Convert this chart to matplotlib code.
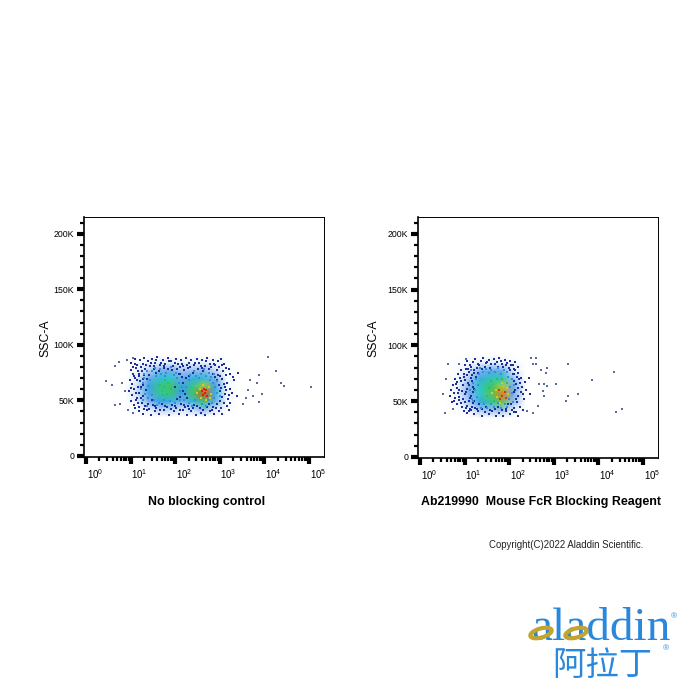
from matplotlib import pyplot as plt
from matplotlib.colors import LinearSegmentedColormap
from matplotlib.patches import Ellipse
from matplotlib.ticker import FixedLocator, NullFormatter
from matplotlib.transforms import ScaledTranslation
import numpy as np

plt.rcParams['font.family'] = ['Liberation Sans', 'DejaVu Sans']
plt.rcParams['mathtext.fontset'] = 'custom'
plt.rcParams['mathtext.rm'] = 'Liberation Sans'

# density: x is log10 of the signal, y is SSC-A in thousands
density_y = [35, 42, 49, 56, 63, 70, 77, 84, 91]

left_density_x = [0.9, 1.15, 1.4, 1.65, 1.9, 2.15, 2.4, 2.65, 2.9, 3.15, 3.4]
left_density = [
    [0, 0, 0, 0, 0, 0, 0, 0, 0, 0, 0],
    [0, .03, .1, .16, .16, .12, .16, .22, .12, .02, 0],
    [0, .1, .24, .34, .38, .26, .4, .62, .28, .05, 0],
    [.01, .13, .32, .54, .6, .34, .66, .95, .4, .06, 0],
    [.01, .13, .35, .58, .66, .36, .58, .76, .34, .06, 0],
    [0, .1, .26, .42, .46, .28, .38, .42, .24, .04, 0],
    [0, .07, .16, .24, .26, .18, .2, .22, .14, .03, 0],
    [0, .02, .07, .1, .1, .08, .08, .09, .06, .01, 0],
    [0, 0, 0, 0, 0, 0, 0, 0, 0, 0, 0],
]

right_density_x = [0.6, 0.85, 1.1, 1.35, 1.6, 1.85, 2.1, 2.35]
right_density = [
    [0, 0, 0, 0, 0, 0, 0, 0],
    [0, .01, .08, .18, .2, .2, .08, 0],
    [0, .05, .18, .36, .56, .7, .2, .01],
    [0, .07, .24, .46, .68, .9, .26, .02],
    [0, .07, .24, .48, .66, .78, .26, .02],
    [0, .05, .18, .38, .5, .5, .2, .01],
    [0, .03, .11, .24, .3, .28, .11, 0],
    [0, .01, .05, .09, .11, .1, .04, 0],
    [0, 0, 0, 0, 0, 0, 0, 0],
]

# individual events, dark blue
left_dark = [
    (1.02, 84), (1.09, 87), (1.15, 82), (1.21, 86), (1.27, 83), (1.31, 88), (1.38, 85), (1.43, 81),
    (1.49, 87), (1.55, 84), (1.6, 89), (1.66, 82), (1.72, 86), (1.78, 83), (1.83, 88), (1.9, 85),
    (1.95, 81), (2.01, 87), (2.07, 83), (2.13, 86), (2.18, 81), (2.24, 88), (2.3, 84), (2.36, 86),
    (2.42, 82), (2.48, 87), (2.54, 84), (2.6, 86), (2.66, 81), (2.72, 88), (2.78, 83), (2.84, 86),
    (2.9, 82), (2.96, 85), (3.03, 87), (3.1, 83),
    (1.0, 77), (1.06, 74), (1.12, 79), (1.18, 72), (1.25, 76), (1.33, 78), (1.41, 73), (1.52, 78),
    (1.63, 76), (1.74, 79), (1.92, 77), (2.04, 78), (2.12, 74), (2.2, 77), (2.29, 79), (2.39, 75),
    (2.51, 78), (2.63, 76), (2.75, 78), (2.85, 74), (2.93, 77), (3.0, 72), (3.07, 76), (3.14, 73),
    (3.2, 78), (3.3, 71), (3.42, 75),
    (0.98, 68), (1.04, 65), (1.1, 70), (1.16, 62), (1.22, 67), (1.29, 64), (1.36, 69), (2.18, 66),
    (2.24, 70), (2.93, 68), (2.99, 64), (3.05, 69), (3.11, 62), (3.17, 66), (3.24, 60), (3.33, 68),
    (0.96, 58), (1.03, 55), (1.08, 60), (1.14, 52), (1.2, 57), (1.27, 54), (1.34, 59), (2.22, 56),
    (3.0, 58), (3.06, 53), (3.12, 56), (3.18, 51), (3.27, 57), (3.38, 54),
    (1.0, 49), (1.07, 46), (1.13, 50), (1.19, 44), (1.26, 48), (1.33, 45), (1.42, 42), (1.5, 46),
    (1.58, 43), (1.7, 47), (1.81, 44), (1.93, 46), (2.03, 43), (2.13, 47), (2.22, 44), (2.31, 42),
    (2.43, 46), (2.55, 43), (2.76, 47), (2.85, 44), (2.95, 47), (3.02, 43), (3.09, 48), (3.16, 45),
    (1.2, 40), (1.29, 38), (1.37, 41), (1.46, 37), (1.55, 40), (1.64, 38), (1.75, 41), (1.86, 37),
    (1.97, 40), (2.08, 38), (2.17, 41), (2.27, 37), (2.36, 40), (2.47, 37), (2.58, 39), (2.68, 37),
    (2.79, 40), (2.88, 38), (2.98, 40), (3.06, 38), (3.2, 41),
    # second pass, filling the gaps
    (1.05, 80), (1.11, 83), (1.17, 76), (1.24, 80), (1.3, 73), (1.35, 82), (1.46, 84), (1.52, 81),
    (1.58, 86), (1.69, 84), (1.75, 81), (1.86, 85), (1.99, 84), (2.1, 80), (2.16, 83), (2.27, 82),
    (2.33, 80), (2.45, 84), (2.57, 81), (2.69, 85), (2.81, 80), (2.87, 83), (2.99, 80), (3.05, 82),
    (3.13, 79), (3.24, 74), (1.08, 72), (1.14, 68), (1.01, 61), (1.19, 74), (1.27, 69), (1.12, 57),
    (1.24, 62), (1.17, 48), (1.1, 43), (1.23, 52), (1.3, 42), (1.38, 47), (1.47, 50), (1.55, 45),
    (1.66, 41), (1.77, 45), (1.9, 42), (2.0, 45), (2.1, 41), (2.19, 46), (2.28, 45), (2.4, 43),
    (2.5, 45), (2.62, 41), (2.72, 44), (2.83, 41), (2.92, 43), (3.0, 49), (3.04, 61), (3.09, 65),
    (3.15, 59), (3.2, 55), (3.22, 48), (2.97, 73), (2.9, 71), (2.15, 71), (2.08, 74), (2.0, 62),
    (2.1, 53), (2.17, 58), (2.05, 51), (2.27, 52), (2.3, 72), (1.56, 75), (1.85, 78), (2.6, 79),
]
right_dark = [
    (1.05, 86), (1.12, 82), (1.18, 85), (1.24, 88), (1.3, 83), (1.36, 86), (1.42, 89), (1.48, 84),
    (1.54, 87), (1.6, 83), (1.66, 88), (1.72, 85), (1.78, 89), (1.84, 83), (1.9, 87), (1.96, 84),
    (2.02, 86), (2.08, 82), (2.14, 85),
    (0.92, 78), (0.98, 74), (1.04, 79), (1.1, 76), (1.16, 73), (1.22, 78), (1.3, 75), (1.38, 79),
    (2.02, 78), (2.08, 74), (2.14, 78), (2.2, 75), (2.27, 71),
    (0.78, 70), (0.84, 67), (0.9, 71), (0.96, 64), (1.02, 69), (1.08, 66), (1.14, 71), (1.2, 63),
    (2.1, 68), (2.16, 65), (2.22, 70), (2.28, 63), (2.36, 67), (2.44, 71),
    (0.7, 60), (0.76, 57), (0.82, 62), (0.88, 54), (0.94, 59), (1.0, 56), (1.06, 61), (1.12, 53),
    (1.18, 58), (2.14, 60), (2.2, 55), (2.26, 58), (2.33, 52), (2.47, 56),
    (0.76, 50), (0.82, 47), (0.88, 51), (0.94, 45), (1.0, 49), (1.06, 46), (1.12, 43), (1.18, 48),
    (1.24, 44), (1.32, 47), (2.05, 47), (2.12, 44), (2.18, 49), (2.24, 45), (2.3, 42),
    (0.98, 41), (1.06, 39), (1.14, 42), (1.22, 38), (1.3, 41), (1.38, 37), (1.46, 40), (1.54, 38),
    (1.62, 41), (1.7, 37), (1.78, 39), (1.86, 37), (1.94, 41), (2.02, 38), (2.1, 40), (2.2, 37),
    # second pass, filling the gaps
    (1.0, 82), (1.08, 79), (1.15, 81), (1.21, 75), (1.27, 80), (1.33, 82), (1.45, 81), (1.51, 85),
    (1.57, 80), (1.69, 83), (1.75, 81), (1.81, 86), (1.87, 81), (1.93, 82), (1.99, 80), (2.05, 82),
    (2.11, 79), (2.19, 81), (0.85, 74), (0.93, 68), (0.99, 72), (1.05, 73), (1.11, 64), (1.17, 68),
    (1.25, 72), (0.8, 65), (0.87, 60), (0.73, 64), (0.67, 55), (0.79, 53), (0.85, 57), (0.97, 52),
    (1.03, 58), (1.09, 50), (1.15, 55), (1.21, 61), (0.72, 49), (0.91, 48), (1.03, 44), (1.09, 41),
    (1.16, 45), (1.22, 50), (1.28, 43), (1.4, 43), (1.48, 45), (1.57, 42), (1.68, 43), (1.75, 45),
    (1.84, 42), (1.92, 43), (1.98, 47), (2.06, 42), (2.15, 40), (2.16, 52), (2.1, 58), (2.2, 62),
    (2.18, 72), (2.12, 74), (2.25, 66), (2.3, 56), (2.38, 60),
]

# events in lighter blue and cyan, nearer the middle of each population
left_mid = [
    (1.3, 74), (1.47, 76), (1.58, 72), (1.69, 74), (1.8, 75), (1.97, 73), (2.33, 73), (2.47, 72),
    (2.57, 74), (2.69, 72), (2.8, 71), (1.24, 60), (1.4, 63), (1.3, 70), (1.44, 68), (1.27, 50),
    (1.39, 52), (1.52, 50), (1.63, 48), (1.76, 50), (1.88, 49), (2.0, 48), (2.12, 50), (2.3, 48),
    (2.44, 50), (2.6, 47), (2.74, 50), (2.88, 52), (2.95, 57), (2.9, 62), (2.85, 66), (2.78, 68),
    (2.1, 58), (2.16, 62), (2.08, 66), (2.04, 70), (2.25, 62), (2.3, 68),
    (1.36, 76), (1.55, 79), (1.66, 78), (1.78, 72), (1.9, 80), (2.02, 75), (2.42, 76), (2.53, 70),
    (2.65, 78), (2.77, 75), (2.88, 74), (1.33, 56), (1.28, 66), (1.47, 55), (1.36, 45), (1.6, 46),
    (2.2, 50), (2.38, 45), (2.7, 45), (2.82, 48), (3.0, 54), (2.94, 67),
]
right_mid = [
    (1.14, 78), (1.34, 80), (1.48, 79), (1.6, 78), (1.74, 80), (1.88, 78), (1.96, 76), (1.2, 66),
    (1.26, 70), (1.24, 60), (1.28, 54), (1.2, 50), (1.36, 44), (1.5, 44), (1.66, 45), (1.82, 44),
    (1.96, 45), (2.0, 52), (2.06, 57), (2.03, 63), (2.06, 70), (1.98, 72),
    (1.42, 76), (1.54, 75), (1.68, 76), (1.82, 74), (1.12, 60), (1.16, 52), (1.3, 64), (1.32, 74),
    (1.44, 47), (1.6, 47), (1.75, 48), (1.9, 47), (2.08, 49), (2.12, 64),
]

# the warmest events at the peaks
left_green = [(1.7, 58), (1.85, 66), (1.78, 68), (1.65, 64), (1.9, 60), (1.72, 55), (1.82, 56), (1.76, 62)]
left_yellow = [(2.55, 60), (2.5, 57), (2.75, 62), (2.8, 56), (2.58, 52), (2.7, 50), (2.62, 64), (2.78, 52)]
left_red = [(2.67, 57), (2.62, 55), (2.7, 59), (2.65, 60), (2.72, 54), (2.6, 58)]
right_green = [(1.55, 62), (1.6, 68), (1.72, 70), (1.5, 55), (1.85, 70), (1.95, 66), (1.66, 50)]
right_yellow = [(1.7, 60), (1.95, 62), (1.72, 54), (1.85, 66), (1.98, 56), (1.8, 48), (1.62, 57)]
right_red = [(1.85, 55), (1.9, 58), (1.8, 52), (1.78, 60), (1.92, 53)]

# sparse events away from the main populations
left_sparse = [
    (4.09, 88.9), (4.27, 76), (4.37, 65.5), (4.44, 62.5), (5.04, 62), (3.88, 73), (3.83, 66),
    (3.96, 56), (3.88, 48.6), (3.75, 54), (3.68, 68.5), (3.52, 47), (3.63, 59.5), (3.6, 52),
    (0.45, 67), (0.58, 64), (0.65, 81), (0.73, 84.5), (0.65, 46), (0.8, 65.7), (0.87, 58),
    (0.76, 47), (1.05, 38.7), (0.95, 41), (0.91, 86), (1.05, 88),
]
right_sparse = [
    (3.31, 83.5), (4.36, 76), (3.85, 68.8), (4.53, 43.2), (4.39, 40), (3.54, 56), (3.33, 55),
    (3.27, 50.5), (3.06, 65.5), (2.86, 80), (2.71, 77.8), (2.82, 75.4), (2.5, 88.3), (2.6, 88.3),
    (2.53, 82.9), (2.6, 82.9), (2.79, 64.9), (2.86, 63.4), (2.68, 64.9), (2.75, 58.8), (2.79, 54.4),
    (2.64, 45.3), (2.53, 39.3), (2.41, 40.9), (0.55, 39.3), (0.73, 43.2), (0.62, 83.5), (0.51, 56),
    (0.58, 70), (0.88, 83.5), (1.03, 87.4),
]

titles = ['No blocking control', 'Ab219990  Mouse FcR Blocking Reagent']
y_ticks = [0, 50, 100, 150, 200]
y_tick_labels = ['0', '50K', '100K', '150K', '200K']
decades = [0, 1, 2, 3, 4, 5]

flow_cmap = LinearSegmentedColormap.from_list('flow', [
    (0, '#ffffff'), (.1, '#e8f0fa'), (.22, '#8ab4ec'), (.34, '#3f9fe6'), (.45, '#2cc8d0'),
    (.65, '#38c468'), (.82, '#d8cc28'), (1, '#d82c10'),
])


def px_rect(left, top, right, bottom):
    return [left / 700, 1 - bottom / 700, (right - left) / 700, (bottom - top) / 700]


def draw_panel(fig, rect, dens_x, dens, layers, title, title_x, label_x):
    ax = fig.add_axes(rect)
    ax.set_xscale('log')
    ax.pcolormesh(10.0 ** np.array(dens_x), density_y, np.array(dens), cmap=flow_cmap,
                  vmin=0, vmax=1, shading='gouraud', rasterized=True)
    for points, colour, size in layers:
        xs, ys = zip(*points)
        ax.scatter(10.0 ** np.array(xs), ys, s=size, c=colour, marker='s', linewidths=0)

    ax.set_xlim(10 ** -0.045, 10 ** 5.34)
    ax.set_ylim(-1, 215)
    ax.set_yticks(y_ticks, y_tick_labels, fontsize=6.3)
    ax.yaxis.set_minor_locator(FixedLocator([v for v in range(0, 215, 10) if v % 50]))
    ax.set_xticks([10.0 ** d for d in decades], [f'$\\mathregular{{10^{{{d}}}}}$' for d in decades], fontsize=7)
    minor = [m * 10.0 ** d for d in decades[:-1] for m in range(2, 10)]
    ax.xaxis.set_minor_locator(FixedLocator(minor))
    ax.xaxis.set_minor_formatter(NullFormatter())
    ax.tick_params(which='major', length=5, width=3, pad=2)
    ax.tick_params(axis='x', which='major', pad=2)
    ax.tick_params(which='minor', length=3, width=1.6)
    # the cytometer software prints decade labels right of their ticks
    shift = ScaledTranslation(9 / 100, 0, fig.dpi_scale_trans)
    for lab in ax.get_xticklabels():
        lab.set_transform(lab.get_transform() + shift)
    for side in ['top', 'right']:
        ax.spines[side].set_linewidth(0.7)
    for side in ['left', 'bottom']:
        ax.spines[side].set_linewidth(1.2)

    fig.text(label_x / 700, 1 - 338 / 700, 'SSC-A', rotation=90, fontsize=8.8,
             ha='center', va='center')
    fig.text(title_x / 700, 1 - 502 / 700, title, fontsize=8.9, fontweight='bold',
             ha='center', va='center')
    return ax


fig = plt.figure(figsize=(7, 7), dpi=100)
draw_panel(fig, px_rect(84, 217, 324, 457), left_density_x, left_density,
           [(left_dark, '#1e2f9c', 2.2), (left_mid, '#2f8fe0', 2.2), (left_sparse, '#5a6a9c', 1.6),
            (left_green, '#2fbf5c', 2.2), (left_yellow, '#d8c820', 2.2), (left_red, '#d8200c', 2.6)],
           titles[0], 207, 45)
draw_panel(fig, px_rect(418, 217, 658, 458), right_density_x, right_density,
           [(right_dark, '#1e2f9c', 2.2), (right_mid, '#2f8fe0', 2.2), (right_sparse, '#5a6a9c', 1.6),
            (right_green, '#2fbf5c', 2.2), (right_yellow, '#d8c820', 2.2), (right_red, '#c8400c', 2.4)],
           titles[1], 541, 373)

fig.text(566 / 700, 1 - 545 / 700, 'Copyright(C)2022 Aladdin Scientific.', fontsize=6.9,
         ha='center', va='center', color='#222222')

# logo, placed in pixel coordinates
logo = fig.add_axes([0, 0, 1, 1], zorder=5)
logo.set_xlim(0, 700)
logo.set_ylim(700, 0)
logo.axis('off')
logo_blue = '#2a88dc'
logo.text(601, 640, 'aladdin', family='Liberation Serif', fontsize=34, color=logo_blue,
          ha='center', va='baseline')
logo.text(602, 665, '阿拉丁', family=['Noto Sans CJK SC', 'DejaVu Sans'], fontsize=24,
          color=logo_blue, ha='center', va='center')
logo.text(674, 617, '®', fontsize=6, color=logo_blue, ha='center', va='center')
logo.text(666, 649, '®', fontsize=6, color=logo_blue, ha='center', va='center')
for cx in [541, 576]:
    logo.add_patch(Ellipse((cx, 633), 22, 9, angle=-16, fill=False, edgecolor='#c2a430',
                           linewidth=3, zorder=6))

fig.savefig('out.png', dpi=100)
